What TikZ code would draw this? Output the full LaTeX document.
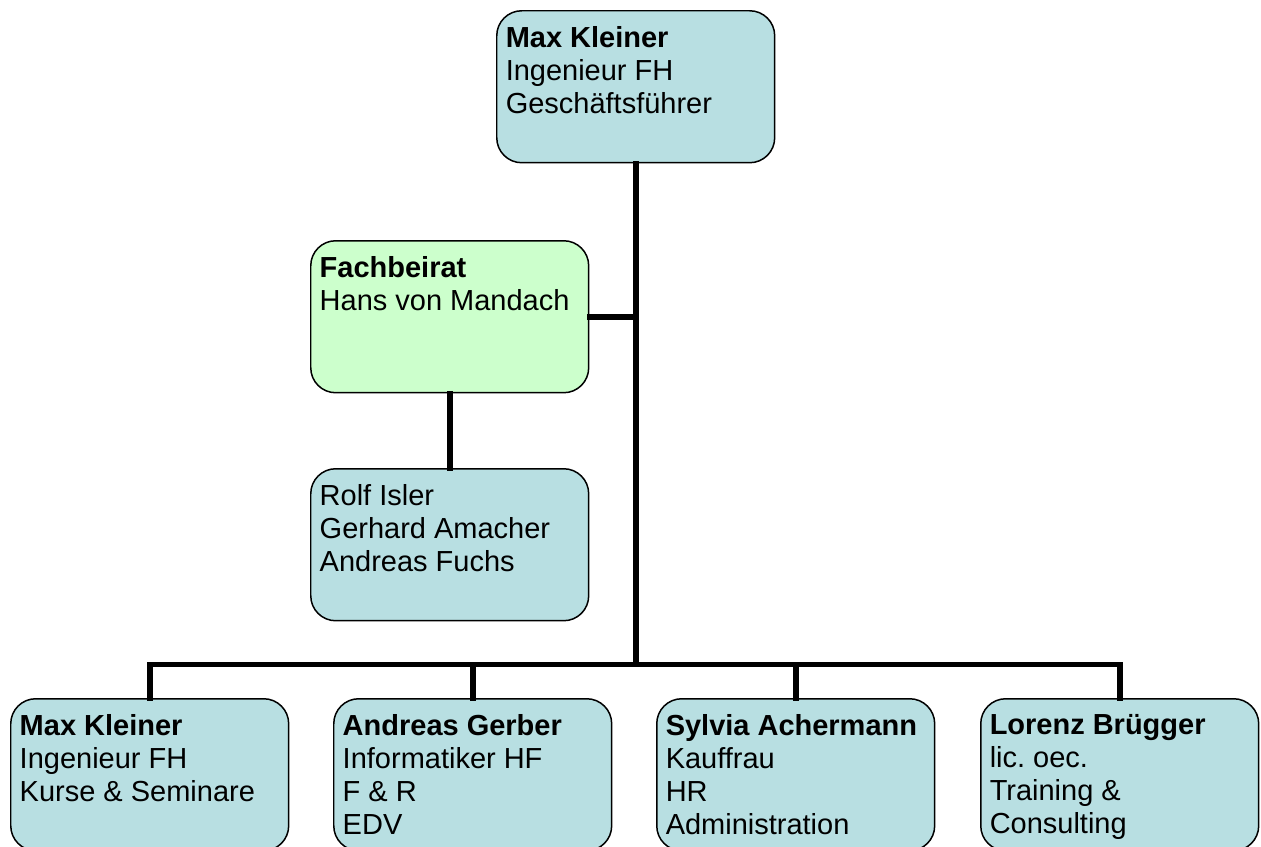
\documentclass[tikz,border=0pt]{standalone}
\usepackage{fontspec}
\setmainfont{Liberation Sans}
\usepackage{tikz}

\definecolor{boxblue}{RGB}{184,223,226}
\definecolor{boxgreen}{RGB}{204,255,204}
\newcommand{\orgtext}[1]{\parbox[c][2.42cm][t]{5.2cm}{\raggedright\frenchspacing #1}}

\begin{document}
\begin{tikzpicture}[x=0.02cm, y=-0.02cm,
        orgbox/.style={draw, line width=0.85pt, rounded corners=0.5cm, fill=boxblue,
            inner xsep=0.18cm, inner ysep=0.31cm, anchor=north west,
            font=\fontsize{16.5}{18.8}\selectfont},
        link/.style={line width=3.3pt, line cap=rect}]
        \clip (0,0) rectangle (1261,846);

        \node[orgbox] (top) at (496,10) {\orgtext{\textbf{Max Kleiner}\\Ingenieur FH\\Geschäftsführer}};
        \node[orgbox, fill=boxgreen] (fach) at (310,240) {\orgtext{\textbf{Fachbeirat}\\Hans von Mandach}};
        \node[orgbox] (rolf) at (310,468) {\orgtext{Rolf Isler\\Gerhard Amacher\\Andreas Fuchs}};

        \node[orgbox] (m1) at (10,698) {\orgtext{\textbf{Max Kleiner}\\Ingenieur FH\\Kurse \& Seminare}};
        \node[orgbox] (m2) at (333,698) {\orgtext{\textbf{Andreas Gerber}\\Informatiker HF\\F \& R\\EDV}};
        \node[orgbox] (m3) at (656,698) {\orgtext{\textbf{Sylvia Achermann}\\Kauffrau\\HR\\Administration}};
        \node[orgbox] (m4) at (980,698) {\orgtext{\textbf{Lorenz Brügger}\\lic. oec.\\Training \&\\Consulting}};

        \path (top.south) ++(0,501) coordinate (bus);

        \draw[link] (top.south) -- (bus);
        \draw[link] (fach.east) -- (fach.east -| bus);
        \draw[link] (fach.south) -- (rolf.north);
        %%
        \draw[link] (m1.north) -- (m1.north |- bus) -- (m4.north |- bus) -- (m4.north);
        \draw[link] (m2.north) -- (m2.north |- bus);
        \draw[link] (m3.north) -- (m3.north |- bus);
    \end{tikzpicture}
\end{document}
